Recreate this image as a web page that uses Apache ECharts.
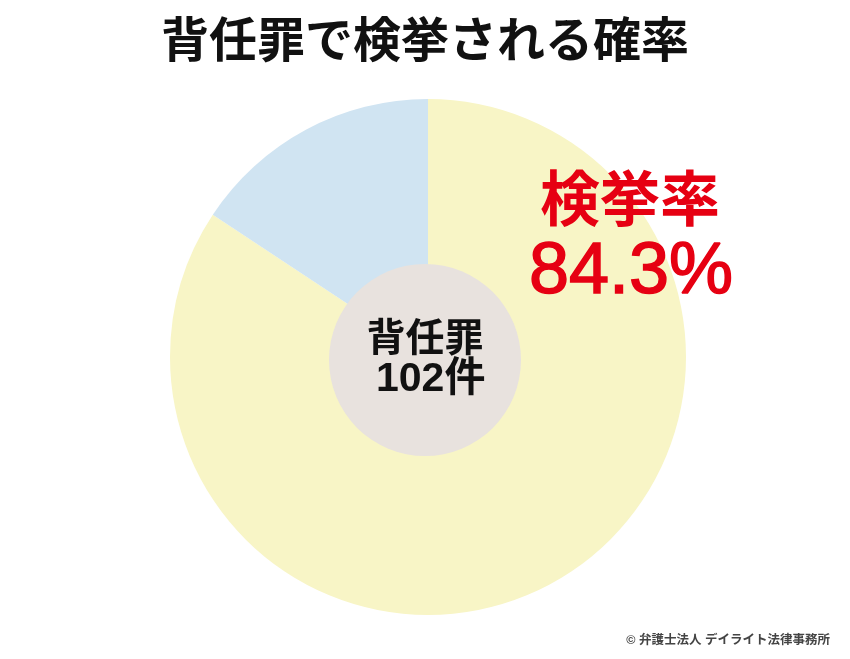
<!DOCTYPE html>
<html><head><meta charset="utf-8">
<script src="https://cdn.jsdelivr.net/npm/echarts@6/dist/echarts.min.js"></script>
<style>html,body{margin:0;padding:0;background:#fff}#c{width:850px;height:659px}</style>
</head><body><div id="c"></div>
<script>
const titleText = '背任罪で検挙される確率';
const categories = ['検挙', '未検挙'];
const rates = [84.3, 15.7];
const crimeName = '背任罪';
const caseCount = 102;
const rateLabel = '検挙率';
const credit = '© 弁護士法人 デイライト法律事務所';

const FONT = '"Liberation Sans", "Noto Sans CJK JP", sans-serif';
const chart = echarts.init(document.getElementById('c'));
chart.setOption({
  animation: false,
  backgroundColor: '#fff',
  title: {
    text: titleText, left: 'center', top: 15,
    textStyle: {fontFamily: FONT, fontSize: 48, fontWeight: 'bold', color: '#111'}
  },
  series: [
    {
      type: 'pie', center: [428, 357], radius: [0, 258], startAngle: 90, clockwise: true,
      label: {show: false}, labelLine: {show: false}, silent: true,
      data: categories.map((c, i) => ({name: c, value: rates[i],
        itemStyle: {color: i === 0 ? '#f8f5c6' : '#d0e4f2'}}))
    },
    {
      type: 'pie', center: [425, 360], radius: [0, 96], silent: true,
      labelLine: {show: false},
      data: [{name: crimeName, value: caseCount, itemStyle: {color: '#e8e2de'}}],
      label: {
        show: true, position: 'center',
        formatter: p => '{a|' + p.name + '}\n{b| ' + p.value + '件}',
        rich: {
          a: {fontFamily: FONT, fontSize: 39, fontWeight: 'bold', color: '#111', lineHeight: 40},
          b: {fontFamily: FONT, fontSize: 41, fontWeight: 'bold', color: '#111', lineHeight: 40}
        }
      }
    }
  ],
  graphic: [
    {type: 'text', z: 100, x: 630, y: 204, style: {text: rateLabel, fontFamily: FONT, fontSize: 60, fontWeight: 'bold',
      fill: '#e60012', align: 'center', verticalAlign: 'middle'}},
    {type: 'text', z: 100, x: 631, y: 273, style: {text: rates[0].toFixed(1) + '%', fontFamily: FONT, fontSize: 72,
      fill: '#e60012', stroke: '#e60012', lineWidth: 1.5, align: 'center', verticalAlign: 'middle'}},
    {type: 'text', z: 100, x: 830, y: 641, style: {text: credit, fontFamily: FONT, fontSize: 12.5, fontWeight: 'bold',
      fill: '#444', align: 'right', verticalAlign: 'middle'}}
  ]
});
</script></body></html>
